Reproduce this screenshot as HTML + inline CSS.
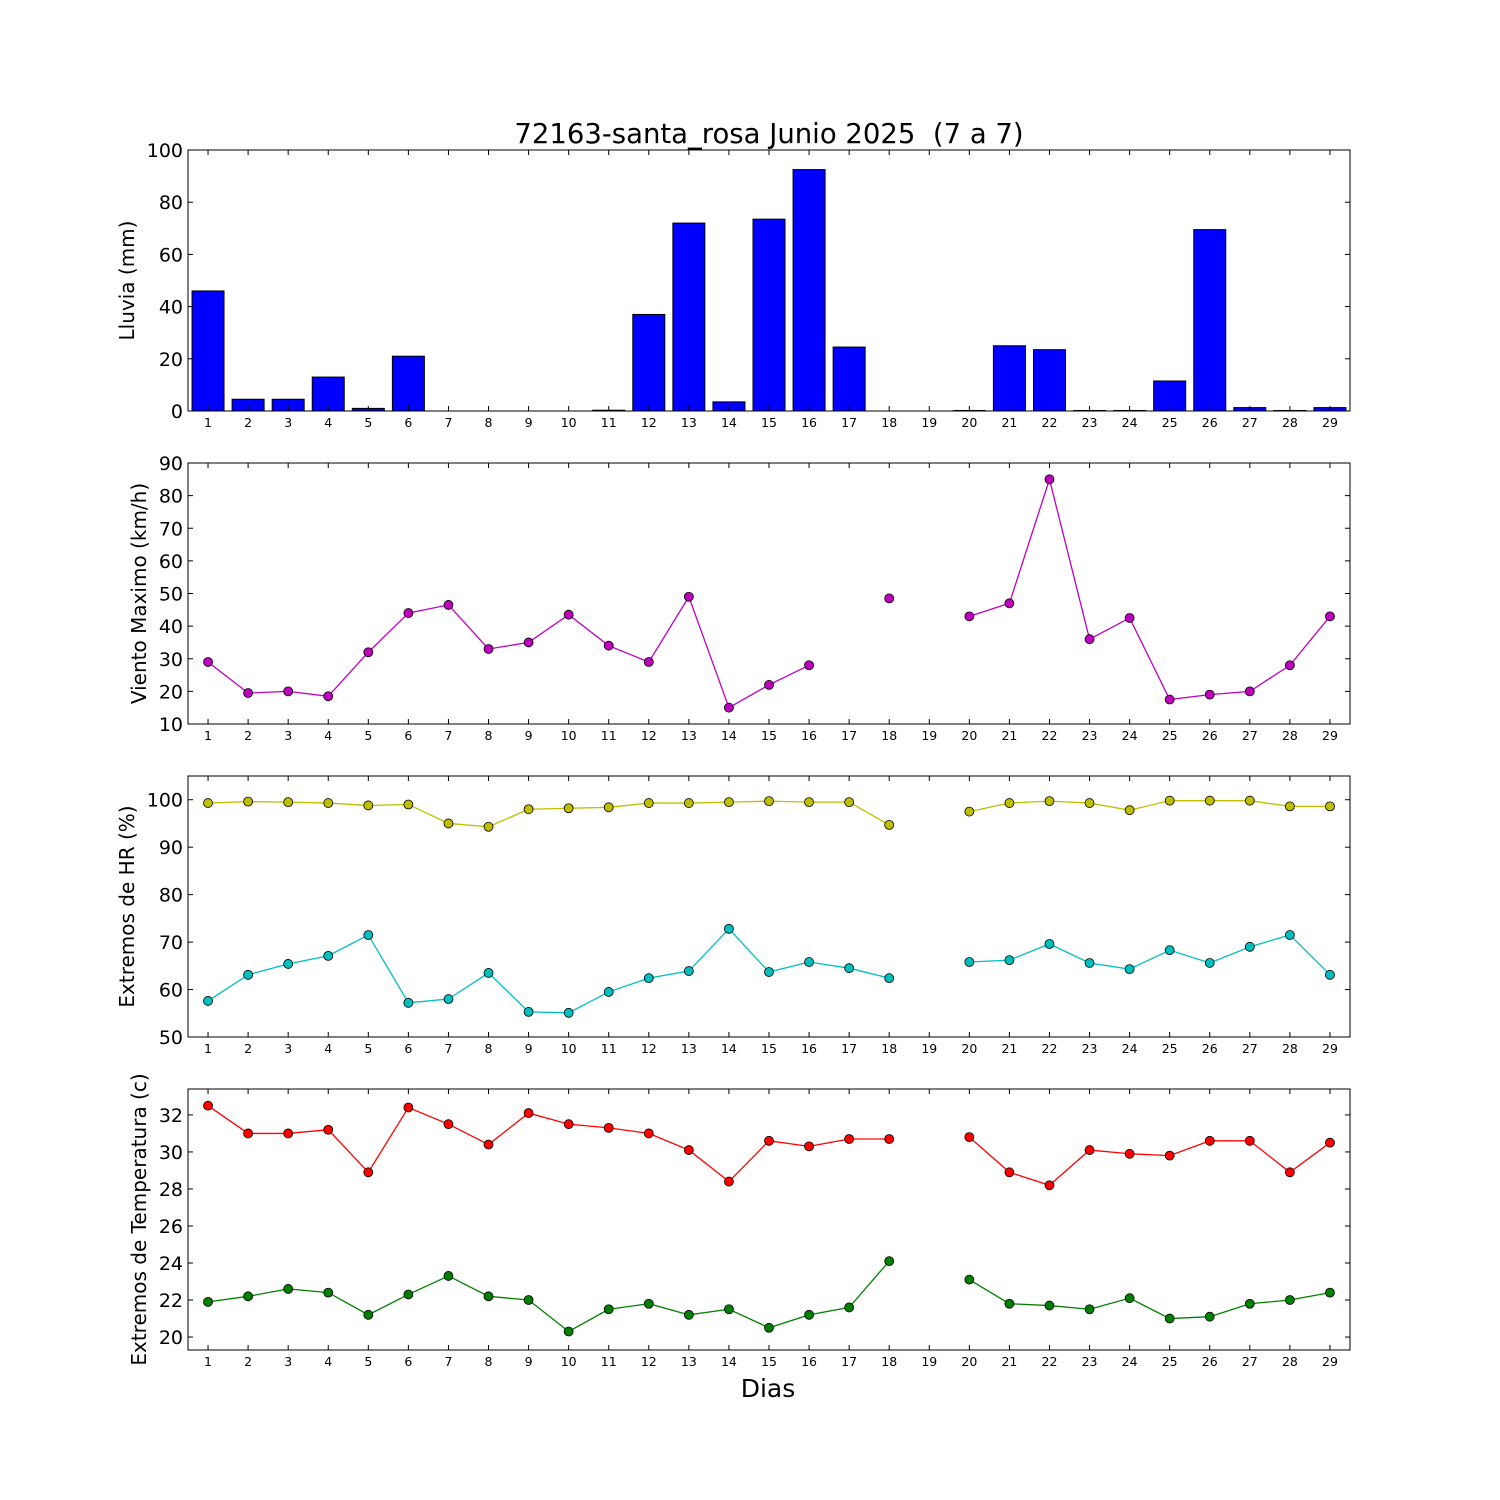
<!DOCTYPE html>
<html><head><meta charset="utf-8"><style>
html,body{margin:0;padding:0;background:#fff;}
svg{display:block;font-family:"DejaVu Sans","Liberation Sans",sans-serif;}
</style></head><body>
<svg id="chart" width="1500" height="1500" xmlns="http://www.w3.org/2000/svg">
<rect width="1500" height="1500" fill="#fff"/>
<text x="769" y="143" font-size="27.5" text-anchor="middle" xml:space="preserve">72163-santa_rosa Junio 2025  (7 a 7)</text>
<text x="768" y="1397" font-size="25" text-anchor="middle">Dias</text>
</svg>
<script>
const days = Array.from({length:29},(_,i)=>i+1);
const rain = [46,4.5,4.5,13,1,21,0,0,0,0,0.3,37,72,3.5,73.5,92.5,24.5,0,0,0.2,25,23.5,0.2,0.2,11.5,69.5,1.3,0.2,1.3];
const wind = [29,19.5,20,18.5,32,44,46.5,33,35,43.5,34,29,49,15,22,28,null,48.5,null,43,47,85,36,42.5,17.5,19,20,28,43];
const hrMax = [99.3,99.6,99.5,99.3,98.8,99.0,95.0,94.3,98.0,98.2,98.4,99.3,99.3,99.5,99.7,99.5,99.5,94.7,null,97.5,99.3,99.7,99.3,97.8,99.8,99.8,99.8,98.6,98.6];
const hrMin = [57.6,63.1,65.4,67.1,71.5,57.2,58.0,63.5,55.3,55.1,59.5,62.4,63.9,72.8,63.7,65.8,64.5,62.4,null,65.8,66.2,69.6,65.6,64.3,68.3,65.6,69.0,71.5,63.1];
const tMax = [32.5,31.0,31.0,31.2,28.9,32.4,31.5,30.4,32.1,31.5,31.3,31.0,30.1,28.4,30.6,30.3,30.7,30.7,null,30.8,28.9,28.2,30.1,29.9,29.8,30.6,30.6,28.9,30.5];
const tMin = [21.9,22.2,22.6,22.4,21.2,22.3,23.3,22.2,22.0,20.3,21.5,21.8,21.2,21.5,20.5,21.2,21.6,24.1,null,23.1,21.8,21.7,21.5,22.1,21.0,21.1,21.8,22.0,22.4];
const rainTicks=[0,20,40,60,80,100], windTicks=[10,20,30,40,50,60,70,80,90], hrTicks=[50,60,70,80,90,100], tTicks=[20,22,24,26,28,30,32];

const svg=document.getElementById('chart');
const NS='http://www.w3.org/2000/svg';
const L=188,R=1350,TK=5;
function mk(tag,attrs,parent){const e=document.createElementNS(NS,tag);for(const k in attrs)e.setAttribute(k,attrs[k]);(parent||svg).appendChild(e);return e;}
const xs=d=>L+(d-0.5)*(R-L)/29;

function panel(name,top,bottom,ymin,ymax,ticks,label,labelX){
  const g=mk('g',{});
  
  
  const ys=v=>bottom-(v-ymin)/(ymax-ymin)*(bottom-top);
  return {g,ys,top,bottom,ticks,label,labelX,name};
}
function frame(p){
  const g=p.g;
  mk('rect',{x:L,y:p.top,width:R-L,height:p.bottom-p.top,fill:'none',stroke:'#000','stroke-width':1},g);
  p.ticks.forEach(t=>{
    const y=p.ys(t);
    mk('line',{x1:L,x2:L+TK,y1:y,y2:y,stroke:'#000'},g);
    mk('line',{x1:R-TK,x2:R,y1:y,y2:y,stroke:'#000'},g);
    const tx=mk('text',{x:L-5,y:y+7,'font-size':19,'text-anchor':'end'},g);
    
    
    tx.textContent=t;
  });
  days.forEach(d=>{
    const x=xs(d);
    mk('line',{x1:x,x2:x,y1:p.bottom,y2:p.bottom-TK,stroke:'#000'},g);
    mk('line',{x1:x,x2:x,y1:p.top,y2:p.top+TK,stroke:'#000'},g);
    const tx=mk('text',{x:x,y:p.bottom+16,'font-size':12.5,'text-anchor':'middle'},g);
    
    
    tx.textContent=d;
  });
  const cy=(p.top+p.bottom)/2;
  const lb=mk('text',{x:p.labelX,y:cy,'font-size':20,'text-anchor':'middle',transform:`rotate(-90 ${p.labelX} ${cy})`},g);
  
  
  lb.textContent=p.label;
}
function series(p,vals,color,name){
  let seg=[];
  const segs=[];
  vals.forEach((v,i)=>{ if(v==null){if(seg.length)segs.push(seg);seg=[];} else seg.push([xs(days[i]),p.ys(v)]); });
  if(seg.length)segs.push(seg);
  segs.forEach(s=>{ if(s.length>1){const pl=mk('polyline',{points:s.map(q=>q.join(',')).join(' '),fill:'none',stroke:color,'stroke-width':1.3},p.g);
    
    }});
  vals.forEach((v,i)=>{ if(v==null)return;
    const c=mk('circle',{cx:xs(days[i]),cy:p.ys(v),r:4.5,fill:color,stroke:'#000','stroke-width':0.8},p.g);
    
    });
}

const p1=panel('rain-panel',150,411,0,100,rainTicks,'Lluvia (mm)',134);
rain.forEach((v,i)=>{
  const x=xs(days[i]);const y=p1.ys(v);
  const b=mk('rect',{x:x-16,y:y,width:32,height:p1.bottom-y,fill:'#0000ff',stroke:'#000','stroke-width':1},p1.g);
  
  
});
frame(p1);

const p2=panel('wind-panel',463,724,10,90,windTicks,'Viento Maximo (km/h)',146);
series(p2,wind,'#bf00bf','wind');
frame(p2);

const p3=panel('humidity-panel',776,1037,50,105,hrTicks,'Extremos de HR (%)',134);
series(p3,hrMax,'#bfbf00','hr-max');
series(p3,hrMin,'#00bfbf','hr-min');
frame(p3);

const p4=panel('temperature-panel',1089,1350,19.3,33.4,tTicks,'Extremos de Temperatura (c)',146);
series(p4,tMax,'#ff0000','temp-max');
series(p4,tMin,'#008000','temp-min');
frame(p4);
</script>
</body></html>
